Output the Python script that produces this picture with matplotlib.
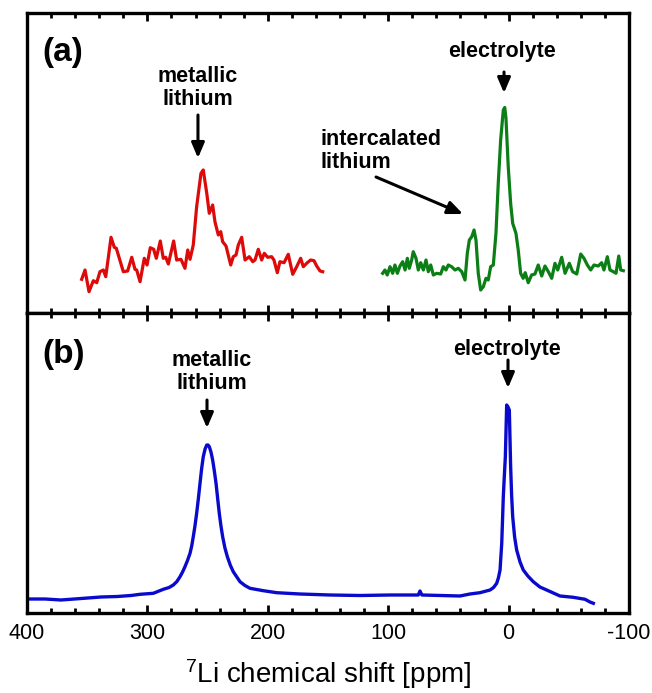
import matplotlib
matplotlib.use("Agg")
import matplotlib.pyplot as plt
from matplotlib.ticker import MultipleLocator

plt.rcParams['font.family'] = ['Liberation Sans', 'DejaVu Sans']
plt.rcParams['mathtext.default'] = 'regular'

# ---- data ----
red_ppm = [354.6, 351.8, 348.5, 344.9, 342.1, 339.4, 336.6, 334.6, 330.2, 327.5, 325.8, 320.0,
           316.4, 313.0, 310.3, 308.9, 306.1, 302.6, 300.3, 297.6, 294.8, 292.6, 289.3, 286.8,
           284.8, 282.6, 278.2, 275.7, 272.1, 268.8, 266.5, 264.6, 261.9, 259.1, 255.5, 253.6,
           250.7, 248.6, 245.8, 243.9, 241.1, 239.1, 237.5, 234.7, 230.8, 228.7, 226.4, 224.5,
           221.7, 218.9, 215.4, 212.5, 210.6, 207.9, 205.1, 202.9, 200.1, 196.8, 194.9, 192.1,
           189.9, 186.5, 183.0, 179.3, 176.0, 172.7, 170.5, 167.2, 164.4, 161.6, 159.4, 156.6, 154.4]
red_int = [33.7, 43, 21.3, 32.3, 30.3, 41.3, 43, 36.3, 75.7, 65.7, 64.7, 41.3,
           42, 55.7, 43.7, 43, 31.3, 54.7, 48, 65.3, 63.7, 54.7, 72, 54.7,
           55.7, 49, 72, 53, 53.7, 44.7, 63, 53.7, 68, 106.3, 139.7, 143,
           119.7, 99.7, 108, 91.3, 78, 81.3, 71.3, 67, 48, 56.3, 58, 68,
           75.7, 53, 56.3, 51.3, 53, 63.7, 53, 59.7, 55.7, 56.3, 53, 40.3,
           51.3, 50.3, 58.7, 38.7, 46.3, 54.7, 46.3, 50.3, 53, 52.3, 47, 42, 41.3]

green_ppm = [104.6, 102.7, 100.8, 98.5, 96.3, 94.4, 92.4, 90.2, 88.0, 86.0, 84.1, 82.5,
             80.5, 79.2, 76.9, 75.0, 73.0, 70.8, 68.6, 66.7, 64.7, 62.5, 59.7, 56.4,
             54.2, 52.0, 50.1, 47.3, 44.5, 41.8, 38.9, 36.2, 34.3, 32.6, 30.6, 28.7,
             27.1, 25.2, 23.2, 21.0, 18.8, 16.9, 14.9, 12.7, 10.5, 8.6, 6.6, 4.4,
             3.2, 2.2, 0.3, -1.7, -3.4, -6.1, -8.0, -10.0, -12.1, -13.8, -16.3, -19.1,
             -21.9, -24.6, -27.5, -30.2, -33.0, -35.8, -38.5, -40.8, -44.1, -46.9, -50.4,
             -53.2, -56.6, -59.9, -62.6, -65.4, -68.2, -70.9, -74.5, -77.3, -79.2, -82.0,
             -84.2, -87.0, -89.2, -91.5, -93.1, -95.3]
green_int = [39.7, 43, 38, 46.3, 39.7, 48, 39.7, 47, 51.3, 43, 54.7, 44.7,
             53, 61.3, 54.7, 43, 50.3, 43, 53, 41.3, 48, 38, 39.7, 39,
             46.3, 43, 48, 46.3, 43, 44.7, 41.3, 33, 59.7, 73, 76.3, 83,
             73, 39.7, 23, 26.3, 34.7, 33, 46.3, 48, 79.7, 129.7, 173, 203,
             205.5, 195, 146.3, 109.7, 89.7, 79.7, 63, 39.7, 34.7, 40.3, 30.3, 38,
             39, 48, 37, 47, 41.3, 34.7, 49.7, 43, 55.7, 39.7, 49.7,
             41.3, 39, 59, 54.7, 48, 43, 48, 47, 50.3, 43, 56.3,
             43, 41.3, 39.7, 57, 43, 42.3]

blue_ppm = [398.9, 385.0, 371.8, 355.0, 338.5, 325.0, 313.6, 306.1, 295.1, 286.8, 282.0,
            278.5, 275.5, 272.9, 270.8, 268.8, 266.7, 264.6, 263.2, 261.9, 260.5, 259.1,
            257.7, 256.3, 255.0, 253.6, 252.1, 250.7, 249.6, 248.6, 247.2, 245.8, 244.4,
            243.0, 241.6, 240.3, 238.9, 237.5, 235.6, 233.6, 231.2, 228.7, 223.1, 219.0,
            214.8, 203.7, 192.6, 173.3, 148.3, 123.4, 98.5, 75.0, 73.6, 72.0,
            40.4, 32.1, 23.8, 15.4, 12.5, 9.9, 8.5, 7.1, 5.7, 4.4, 3.5, 2.7, 1.6, 0.5,
            -0.6, -1.7, -2.5, -3.4, -5.0, -6.7, -9.5, -12.2, -16.0, -20.5, -26.0, -31.6,
            -42.7, -53.7, -63.5, -67.6, -70.4]
blue_int = [14, 14, 13, 14.5, 16, 16.5, 17.5, 18.7, 19.7, 23.7, 25.5,
            28, 31.5, 36.3, 41, 46.3, 52.5, 59.7, 67, 76.3, 87, 99.7,
            114, 129.7, 144, 156.3, 164, 168, 168, 166.3, 161, 153, 142,
            129.7, 114, 99.7, 87, 76.3, 65, 56.3, 48, 41.3, 31.3, 27.5,
            24.7, 22.3, 20.3, 19, 18, 17.5, 18, 18, 22, 18,
            17, 19, 20.3, 23, 25.5, 29.7, 35, 43, 69.7, 116.3, 138, 156.3, 208, 206,
            203, 146.3, 118, 96.3, 76, 63, 51, 43, 37, 31.3, 26, 23,
            17, 15.7, 13.7, 11, 9.7]

xticks_major = [400, 300, 200, 100, 0, -100]

# ---- figure ----
fig = plt.figure(figsize=(6.52, 6.93), dpi=100)
L, R = 27 / 652, 629 / 652
ax_a = fig.add_axes([L, 1 - 313 / 693, R - L, 300 / 693])
ax_b = fig.add_axes([L, 1 - 613 / 693, R - L, 300 / 693])

ax_a.plot(red_ppm, red_int, color='#dd0a0a', lw=2.3, solid_joinstyle='round')
ax_a.plot(green_ppm, green_int, color='#0b7f16', lw=2.3, solid_joinstyle='round')
ax_b.plot(blue_ppm, blue_int, color='#0a0acc', lw=2.4, solid_joinstyle='round')

for ax in (ax_a, ax_b):
    ax.set_xlim(400, -100)
    ax.set_ylim(0, 300)
    ax.set_yticks([])
    ax.xaxis.set_major_locator(MultipleLocator(100))
    ax.xaxis.set_minor_locator(MultipleLocator(20))
    ax.tick_params(axis='x', which='both', direction='in', top=True, bottom=True,
                   width=2.0, labelsize=15.5, pad=7)
    ax.tick_params(axis='x', which='major', length=5.5)
    ax.tick_params(axis='x', which='minor', length=3.5)
    for s in ax.spines.values():
        s.set_linewidth(2.4)

ax_a.tick_params(axis='x', labelbottom=False)
ax_b.set_xticks(xticks_major)
ax_b.set_xticklabels([str(v) for v in xticks_major])
ax_b.set_xlabel(r'$^{7}$Li chemical shift [ppm]', fontsize=20, labelpad=10)

ann_fs = 15.5
arrow_kw = dict(arrowstyle='-|>,head_length=0.7,head_width=0.3', lw=2.2, color='black',
                mutation_scale=13, shrinkA=0, shrinkB=0)

# panel (a)
ax_a.text(387.5, 261, '(a)', fontsize=24, fontweight='bold', ha='left', va='center')
ax_a.text(258, 225, 'metallic\nlithium', fontsize=ann_fs, fontweight='bold',
          ha='center', va='center', multialignment='center', linespacing=1.12)
ax_a.annotate('', xy=(258, 155), xytext=(258, 198), arrowprops=arrow_kw)
ax_a.text(5.5, 261, 'electrolyte', fontsize=ann_fs, fontweight='bold', ha='center', va='center')
ax_a.annotate('', xy=(3.8, 220), xytext=(3.8, 241), arrowprops=arrow_kw)
ax_a.text(156.6, 162, 'intercalated\nlithium', fontsize=ann_fs, fontweight='bold',
          ha='left', va='center', multialignment='left', linespacing=1.12)
ax_a.annotate('', xy=(37.9, 99), xytext=(110.1, 136), arrowprops=arrow_kw)

# panel (b)
ax_b.text(387.5, 258, '(b)', fontsize=24, fontweight='bold', ha='left', va='center')
ax_b.text(246.3, 241, 'metallic\nlithium', fontsize=ann_fs, fontweight='bold',
          ha='center', va='center', multialignment='center', linespacing=1.12)
ax_b.annotate('', xy=(250.5, 185), xytext=(250.5, 213), arrowprops=arrow_kw)
ax_b.text(1.3, 264, 'electrolyte', fontsize=ann_fs, fontweight='bold', ha='center', va='center')
ax_b.annotate('', xy=(0.5, 225), xytext=(0.5, 253), arrowprops=arrow_kw)

fig.savefig('out.png', dpi=100)
